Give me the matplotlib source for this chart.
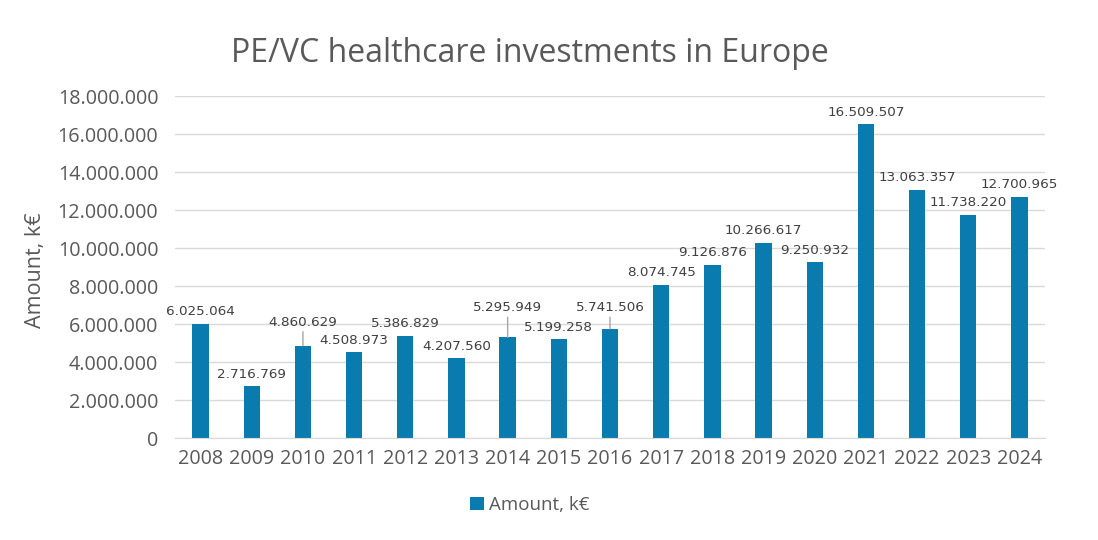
import matplotlib
matplotlib.use("Agg")
from matplotlib import pyplot as plt
from matplotlib.ticker import FuncFormatter

years = ["2008", "2009", "2010", "2011", "2012", "2013", "2014", "2015", "2016",
         "2017", "2018", "2019", "2020", "2021", "2022", "2023", "2024"]
amounts = [6025064, 2716769, 4860629, 4508973, 5386829, 4207560, 5295949, 5199258,
           5741506, 8074745, 9126876, 10266617, 9250932, 16509507, 13063357,
           11738220, 12700965]

# labels lifted higher than usual (extra offset in points), drawn with a leader line
lifted = {"2010": 6, "2014": 10.5, "2016": 4.5}


def dotted(v):
    return f"{int(v):,}".replace(",", ".")


def main():
    plt.rcParams["font.family"] = ["Open Sans", "DejaVu Sans"]
    grey = "#595959"
    blue = "#0A7BAE"

    fig = plt.figure(figsize=(10.98, 5.4), dpi=100)
    ax = fig.add_axes([175 / 1098, 1 - 438 / 540, 870 / 1098, 342 / 540])

    x = list(range(len(years)))
    ax.bar(x, amounts, width=0.32, color=blue, label="Amount, k€", zorder=2)

    ax.set_ylim(0, 18_000_000)
    ax.set_xlim(-0.5, len(years) - 0.5)
    ax.set_yticks(range(0, 18_000_001, 2_000_000))
    ax.yaxis.set_major_formatter(FuncFormatter(lambda v, _: dotted(v)))
    ax.set_xticks(x, years)
    ax.tick_params(axis="both", length=0, labelsize=14.2, colors=grey)
    ax.tick_params(axis="x", pad=8)
    ax.tick_params(axis="y", pad=12)
    ax.grid(axis="y", color="#d9d9d9", lw=1, zorder=0)
    for s in ["top", "right", "left"]:
        ax.spines[s].set_visible(False)
    ax.spines["bottom"].set_color("#d9d9d9")

    for xi, yr, v in zip(x, years, amounts):
        extra = lifted.get(yr, 0)
        if extra:
            ax.annotate(dotted(v), (xi, v), xytext=(0, 6 + extra), textcoords="offset points",
                        ha="center", va="bottom", fontsize=9.7, color="#404040",
                        family="DejaVu Sans",
                        arrowprops=dict(arrowstyle="-", color="#a6a6a6", lw=1,
                                        shrinkA=0, shrinkB=0, relpos=(0.5, 0)))
        else:
            ax.annotate(dotted(v), (xi, v), xytext=(0, 4), textcoords="offset points",
                        ha="center", va="bottom", fontsize=9.7, color="#404040",
                        family="DejaVu Sans")

    fig.text(530 / 1098, 1 - 53 / 540, "PE/VC healthcare investments in Europe",
             ha="center", va="center", fontsize=23, color=grey)
    fig.text(35 / 1098, 1 - 270 / 540, "Amount, k€", rotation=90,
             ha="center", va="center", fontsize=15.5, color=grey)

    fig.legend(loc="center", bbox_to_anchor=(530 / 1098, 1 - 505 / 540), frameon=False,
               fontsize=13.5, labelcolor=grey, handlelength=0.7, handleheight=0.7,
               handletextpad=0.3)

    fig.savefig("out.png", dpi=100)


if __name__ == "__main__":
    main()
